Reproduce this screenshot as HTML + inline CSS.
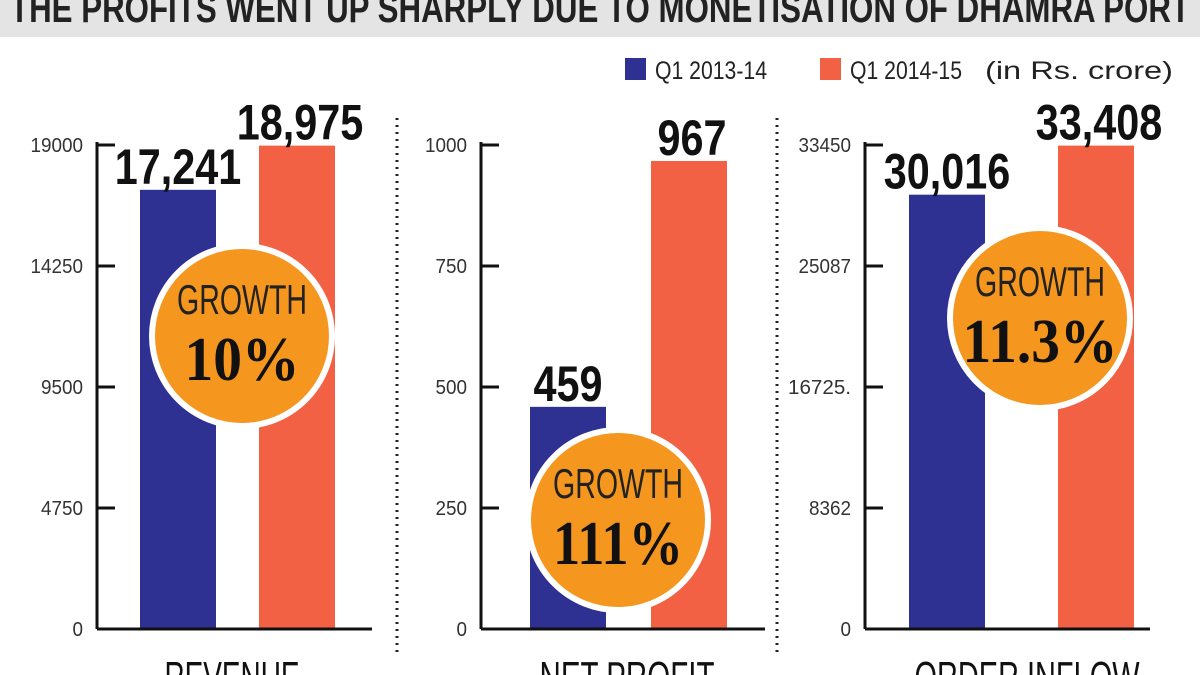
<!DOCTYPE html>
<html><head><meta charset="utf-8"><style>
body{margin:0;background:#fff;}
svg{display:block;font-family:"Liberation Sans Narrow","Liberation Sans",sans-serif;}
</style></head><body>
<svg id="c" width="1200" height="675" viewBox="0 0 1200 675">
<rect x="0" y="0" width="1200" height="37" fill="#e4e4e4"/>
<text x="600" y="22" text-anchor="middle" font-size="40" font-weight="bold" fill="#222" textLength="1180" lengthAdjust="spacingAndGlyphs">THE PROFITS WENT UP SHARPLY DUE TO MONETISATION OF DHAMRA PORT</text>
<g>
<rect x="625" y="58" width="21" height="22" fill="#2e3192"/>
<text x="655" y="79" font-size="25" fill="#222" textLength="112" lengthAdjust="spacingAndGlyphs">Q1 2013-14</text>
<rect x="820" y="58" width="21" height="22" fill="#f26144"/>
<text x="850" y="79" font-size="25" fill="#222" textLength="112" lengthAdjust="spacingAndGlyphs">Q1 2014-15</text>
<text x="985" y="79" font-size="25" fill="#222" textLength="188" lengthAdjust="spacingAndGlyphs">(in Rs. crore)</text>
</g>
<line x1="397" y1="118" x2="397" y2="655" stroke="#222" stroke-width="3" stroke-dasharray="2,5"/>
<line x1="777" y1="118" x2="777" y2="655" stroke="#222" stroke-width="3" stroke-dasharray="2,5"/>
</svg>
<script>
const panelNames = ["REVENUE","NET PROFIT","ORDER INFLOW"];
const prevValues = [17241, 459, 30016];
const currValues = [18975, 967, 33408];
const axisMax = [19000, 1000, 33450];
const tickLabels = [["0","4750","9500","14250","19000"],["0","250","500","750","1000"],["0","8362","16725.","25087","33450"]];
const growthLabels = ["10%","111%","11.3%"];
const printedPrev = ["17,241","459","30,016"];
const printedCurr = ["18,975","967","33,408"];

const svgEl = document.getElementById('c');
const NS = 'http://www.w3.org/2000/svg';
function mk(tag, attrs, text){const e=document.createElementNS(NS,tag);for(const k in attrs)e.setAttribute(k,attrs[k]);if(text!==undefined)e.textContent=text;svgEl.appendChild(e);return e;}
const baseY = 629, topY = 145, plotH = baseY - topY;
const layout = [
 {ax:97, b1:140, b2:259, end:372, cx:242, cy:336, lx:232, lw:135, gw:115},
 {ax:481, b1:530, b2:651, end:765, cx:618, cy:520, lx:627, lw:175, gw:130},
 {ax:865, b1:909, b2:1058, end:1150, cx:1040, cy:318, lx:1027, lw:225, gw:155}
];
const bw = 76;
function charW(s){return s.length*20 - (s.match(/[,]/g)||[]).length*10;}
for (let p=0;p<3;p++){
  const L = layout[p];
  const y = v => baseY - v/axisMax[p]*plotH;
  for (let i=0;i<tickLabels[p].length;i++){
    const ty = baseY - i/(tickLabels[p].length-1)*plotH;
    const t = mk('line',{x1:L.ax,y1:ty,x2:L.ax+18,y2:ty,stroke:'#111','stroke-width':3});
    
    
    const tl = mk('text',{x:L.ax-14,y:ty+7,'text-anchor':'end','font-size':20,fill:'#333',textLength:tickLabels[p][i].length*10.5,lengthAdjust:'spacingAndGlyphs'},tickLabels[p][i]);
    
    
  }
  const b1 = mk('rect',{x:L.b1,y:y(prevValues[p]),width:bw,height:baseY-y(prevValues[p]),fill:'#2e3192'});
  
  
  const b2 = mk('rect',{x:L.b2,y:y(currValues[p]),width:bw,height:baseY-y(currValues[p]),fill:'#f26144'});
  
  
  const ya = mk('line',{x1:L.ax,y1:topY-3,x2:L.ax,y2:baseY,stroke:'#111','stroke-width':3});
  
  
  const xa = mk('line',{x1:L.ax,y1:baseY,x2:L.end,y2:baseY,stroke:'#111','stroke-width':3});
  
  
  const v1 = mk('text',{x:L.b1+bw/2,y:y(prevValues[p])-6,'text-anchor':'middle','font-size':50,'font-weight':'bold',fill:'#111',textLength:charW(printedPrev[p])*1.15,lengthAdjust:'spacingAndGlyphs'},printedPrev[p]);
  
  
  const v2 = mk('text',{x:L.b2+bw/2+3,y:y(currValues[p])-6,'text-anchor':'middle','font-size':50,'font-weight':'bold',fill:'#111',textLength:charW(printedCurr[p])*1.15,lengthAdjust:'spacingAndGlyphs'},printedCurr[p]);
  
  
  const c = mk('circle',{cx:L.cx,cy:L.cy,r:90,fill:'#f5961f',stroke:'#fff','stroke-width':6});
  
  
  const g1 = mk('text',{x:L.cx,y:L.cy-22,'text-anchor':'middle','font-size':42,fill:'#222',textLength:130,lengthAdjust:'spacingAndGlyphs'},'GROWTH');
  
  
  const g2 = mk('text',{x:L.cx,y:L.cy+44,'text-anchor':'middle','font-size':62,'font-weight':'bold','font-family':'"Liberation Serif",serif',fill:'#111',textLength:L.gw,lengthAdjust:'spacingAndGlyphs'},growthLabels[p]);
  
  
  const pl = mk('text',{x:L.lx,y:692,'text-anchor':'middle','font-size':44,fill:'#111',textLength:L.lw,lengthAdjust:'spacingAndGlyphs'},panelNames[p]);
  
  
}
</script>
</body></html>
